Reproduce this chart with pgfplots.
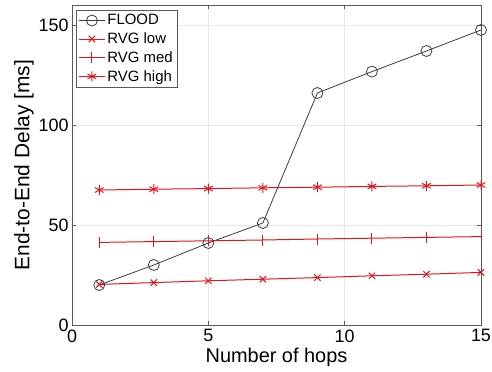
\documentclass[border=0pt]{standalone}
\usepackage{pgfplots}
\pgfplotsset{compat=1.18}
\usepackage{fontspec}
\setmainfont{Liberation Sans}
\definecolor{rvgred}{RGB}{228,20,28}
\definecolor{floodgray}{RGB}{60,60,60}
\begin{document}
\begin{tikzpicture}
\begin{axis}[
  scale only axis,
  width=409bp, height=320bp,
  xmin=0, xmax=15, ymin=0, ymax=160,
  xtick={0,5,10,15}, ytick={0,50,100,150},
  grid=major,
  major grid style={gray!18, line width=0.5pt},
  axis line style={gray!70!black, line width=0.6pt},
  tick style={gray!70!black, line width=0.5pt},
  tick align=inside,
  major tick length=4bp,
  /pgf/number format/assume math mode=true,
  tick label style={font=\fontsize{18}{20}\selectfont},
  xlabel={Number of hops},
  ylabel={End-to-End Delay [ms]},
  xlabel style={font=\fontsize{20}{22}\selectfont, yshift=1bp},
  ylabel style={font=\fontsize{21}{23}\selectfont, yshift=-2bp},
  xticklabel style={yshift=-1bp},
  legend style={font=\fontsize{15}{18}\selectfont, draw=gray!70!black, line width=0.5pt,
    at={(0.009,0.984)}, anchor=north west, inner xsep=2.5pt, inner ysep=1pt,
    nodes={inner ysep=3.2pt},
    /tikz/every even column/.append style={column sep=3pt}},
  legend cell align=left,
  legend image code/.code={
    \draw[#1] (0bp,0bp) -- (13bp,0bp);
    \draw[#1] plot coordinates {(13bp,0bp)};
    \draw[#1, mark=none] (13bp,0bp) -- (26bp,0bp);
  },
]
\addplot[floodgray, line width=0.8pt, mark=o, mark size=5.5bp, mark options={line width=0.8pt}]
  coordinates {(1,20) (3,30) (5,41) (7,51) (9,116) (11,126.7) (13,137) (15,147.5)};
\addlegendentry{FLOOD}
\addplot[rvgred, line width=1pt, mark=x, mark size=4.5bp, mark options={line width=1pt}]
  coordinates {(1,20.3) (3,21.2) (5,22.1) (7,22.9) (9,23.7) (11,24.6) (13,25.4) (15,26.3)};
\addlegendentry{RVG low}
\addplot[rvgred, line width=1pt, mark=|, mark size=5.5bp, mark options={line width=1pt}]
  coordinates {(1,41.3) (3,41.7) (5,42.1) (7,42.5) (9,43.0) (11,43.4) (13,43.8) (15,44.2)};
\addlegendentry{RVG med}
\addplot[rvgred, line width=1pt, mark=asterisk, mark size=5bp, mark options={line width=1pt}]
  coordinates {(1,67.5) (3,67.9) (5,68.2) (7,68.6) (9,68.9) (11,69.3) (13,69.6) (15,70.0)};
\addlegendentry{RVG high}
\end{axis}
\pgfresetboundingbox
\path[use as bounding box] ([shift={(-72bp,-47bp)}]current axis.south west)
  rectangle ([shift={(11bp,5bp)}]current axis.north east);
\end{tikzpicture}
\end{document}
